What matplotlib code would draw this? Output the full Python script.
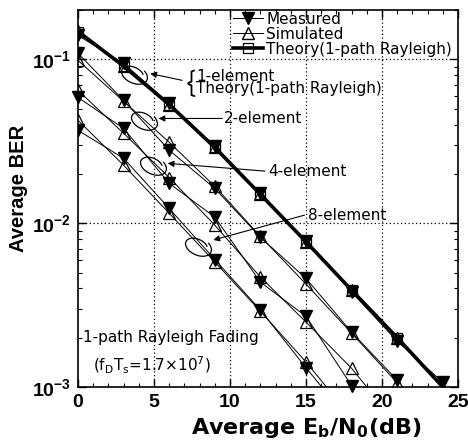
import numpy as np
import matplotlib
matplotlib.use('Agg')
import matplotlib.pyplot as plt
from matplotlib.path import Path
from matplotlib.lines import Line2D

plt.rcParams['font.family'] = ['DejaVu Sans']
plt.rcParams['mathtext.default'] = 'regular'

# Eb/N0 points (dB)
ebn0 = [0, 3, 6, 9, 12, 15, 18, 21, 24]

# 1-element
theory_1 = [0.148, 0.091, 0.053, 0.029, 0.015, 0.0077, 0.0039, 0.0020, 0.0010]
meas_1 = [0.140, 0.0945, 0.054, 0.0295, 0.0152, 0.0078, 0.0038, 0.0019, 0.00107]
sim_1 = [0.150, 0.091, 0.053, 0.029, 0.015, 0.0077, 0.0039, 0.0020]
# 2-element
meas_2 = [0.109, 0.0562, 0.0279, 0.0163, 0.0082, 0.0046, 0.00216, 0.0011]
sim_2 = [0.0986, 0.0555, 0.0312, 0.0168, 0.0083, 0.00425, 0.00213, 0.00106]
# 4-element
meas_4 = [0.0586, 0.0379, 0.0175, 0.0109, 0.00437, 0.0027, 0.00102]
sim_4 = [0.0647, 0.0354, 0.019, 0.00973, 0.00469, 0.00249, 0.0013, 0.00059]
# 8-element
meas_8 = [0.0369, 0.0249, 0.0123, 0.0060, 0.00295, 0.00131, 0.00060]
sim_8 = [0.0425, 0.0226, 0.0115, 0.0058, 0.0029, 0.00142, 0.00065]

TICK_FONT = dict(family='Liberation Sans', weight='bold', size=14)
ANN = dict(fontsize=11, va='center', ha='left')


def loop_marker():
    t = np.linspace(0.6, 2 * np.pi + 1.0, 80)
    r = 1.0 + 0.06 * (t - 0.6)
    x = 1.3 * r * np.cos(t)
    y = 0.8 * r * np.sin(t)
    a = np.deg2rad(-25)
    xr = x * np.cos(a) - y * np.sin(a)
    yr = x * np.sin(a) + y * np.cos(a)
    return Path(np.column_stack([xr, yr]))


def brace_marker():
    # left curly brace, drawn as an open path
    s = np.linspace(0, 1, 20)
    top = np.column_stack([0.25 - 0.25 * np.sin(s * np.pi / 2), 1 - 0.12 * s])
    up = np.column_stack([np.zeros(10), np.linspace(0.88, 0.14, 10)])
    mid_a = np.column_stack([-0.25 * np.sin(s * np.pi / 2), 0.14 * (1 - s)])
    mid_b = np.column_stack([-0.25 * np.cos(s * np.pi / 2), -0.14 * s])
    down = np.column_stack([np.zeros(10), np.linspace(-0.14, -0.88, 10)])
    bot = np.column_stack([0.25 * np.sin(s * np.pi / 2), -0.88 - 0.12 * s])
    return Path(np.vstack([top, up, mid_a, mid_b, down, bot]))


fig = plt.figure(figsize=(4.68, 4.45), dpi=100)
ax = fig.add_axes([0.1667, 0.1303, 0.812, 0.847])

# theory (thick)
ax.plot(ebn0, theory_1, color='black', lw=2.6, marker='s', ms=7.5,
        mfc='none', mec='black', mew=0.9, markevery=list(range(8)), zorder=2)

sim_sets = [sim_1, sim_2, sim_4, sim_8]
meas_sets = [meas_1, meas_2, meas_4, meas_8]
for s in sim_sets:
    ax.plot(ebn0[:len(s)], s, color='black', lw=0.7, marker='^', ms=8,
            mfc='none', mec='black', mew=0.9, zorder=3)
for i, m in enumerate(meas_sets):
    ax.plot(ebn0[:len(m)], m, color='black', lw=0.7, marker='v', ms=8,
            mfc='black', mec='black', zorder=4, clip_on=(i != 2))

ax.set_yscale('log')
ax.set_xlim(0, 25)
ax.set_ylim(1e-3, 0.2)
ax.set_xticks([0, 5, 10, 15, 20, 25])
ax.set_xticks(np.arange(0, 26, 1), minor=True)
ax.set_yticks([1e-3, 1e-2, 1e-1])
ax.set_xticklabels(['0', '5', '10', '15', '20', '25'], **TICK_FONT)
ax.set_yticklabels([r'$10^{-3}$', r'$10^{-2}$', r'$10^{-1}$'], **TICK_FONT)
ax.tick_params(which='both', direction='in', top=True, right=True)
ax.tick_params(which='major', length=6, width=1, pad=5)
ax.tick_params(which='minor', length=3, width=0.8)
for sp in ax.spines.values():
    sp.set_linewidth(1.2)

for xv in [5, 10, 15, 20]:
    ax.axvline(xv, color='black', ls=(0, (1, 2)), lw=0.9, zorder=1)
for yv in [1e-2, 1e-1]:
    ax.axhline(yv, color='black', ls=(0, (1, 2)), lw=0.9, zorder=1)

ax.set_xlabel(r'Average E$_{b}$/N$_{0}$(dB)', fontsize=16,
              fontweight='bold')
ax.xaxis.set_label_coords(0.60, -0.078)
ax.set_ylabel('Average BER', fontsize=14.5, fontweight='bold',
              family='Liberation Sans')
ax.yaxis.set_label_coords(-0.132, 0.528)

# loops around curve groups
lp = loop_marker()
loop_x = [3.6, 4.3, 4.9, 7.8]
loop_y = [0.081, 0.0425, 0.0226, 0.0073]
ax.plot(loop_x, loop_y, ls='none', marker=lp, ms=20, mfc='none',
        mec='black', mew=0.9, zorder=5)

arrow = dict(arrowstyle='-|>', color='black', lw=0.8, mutation_scale=9,
             shrinkA=0, shrinkB=0)
ax.annotate('', xy=(4.75, 0.082), xytext=(6.85, 0.0745), arrowprops=arrow)
ax.plot([7.45], [0.0722], ls='none', marker=brace_marker(), ms=19,
        mfc='none', mec='black', mew=1.3)
ax.text(7.75, 0.0722, '1-element\nTheory(1-path Rayleigh)',
        linespacing=0.78, **ANN)

ax.annotate('', xy=(5.3, 0.0436), xytext=(9.5, 0.0436), arrowprops=arrow)
ax.text(9.6, 0.0436, '2-element', **ANN)

ax.annotate('', xy=(5.9, 0.0232), xytext=(12.3, 0.0208), arrowprops=arrow)
ax.text(12.5, 0.0208, '4-element', **ANN)

ax.annotate('', xy=(8.9, 0.0079), xytext=(14.9, 0.0112), arrowprops=arrow)
ax.text(15.1, 0.0112, '8-element', **ANN)

ax.text(0.3, 0.0020, '1-path Rayleigh Fading', **ANN)
ax.text(1.0, 0.00136, r'(f$_{D}$T$_{s}$=1.7$\times$10$^{7}$)', **ANN)

handles = [
    Line2D([], [], color='black', lw=0.7, marker='v', ms=8, mfc='black'),
    Line2D([], [], color='black', lw=0.7, marker='^', ms=8, mfc='none'),
    Line2D([], [], color='black', lw=2.6, marker='s', ms=7.5, mfc='none',
           mew=0.9),
]
ax.legend(handles, ['Measured', 'Simulated', 'Theory(1-path Rayleigh)'],
          loc='upper right', bbox_to_anchor=(1.0, 1.012), frameon=False,
          fontsize=11, labelspacing=0.0, handlelength=2.0, handletextpad=0.2,
          borderaxespad=0.0)

fig.savefig('out.png', dpi=100)
